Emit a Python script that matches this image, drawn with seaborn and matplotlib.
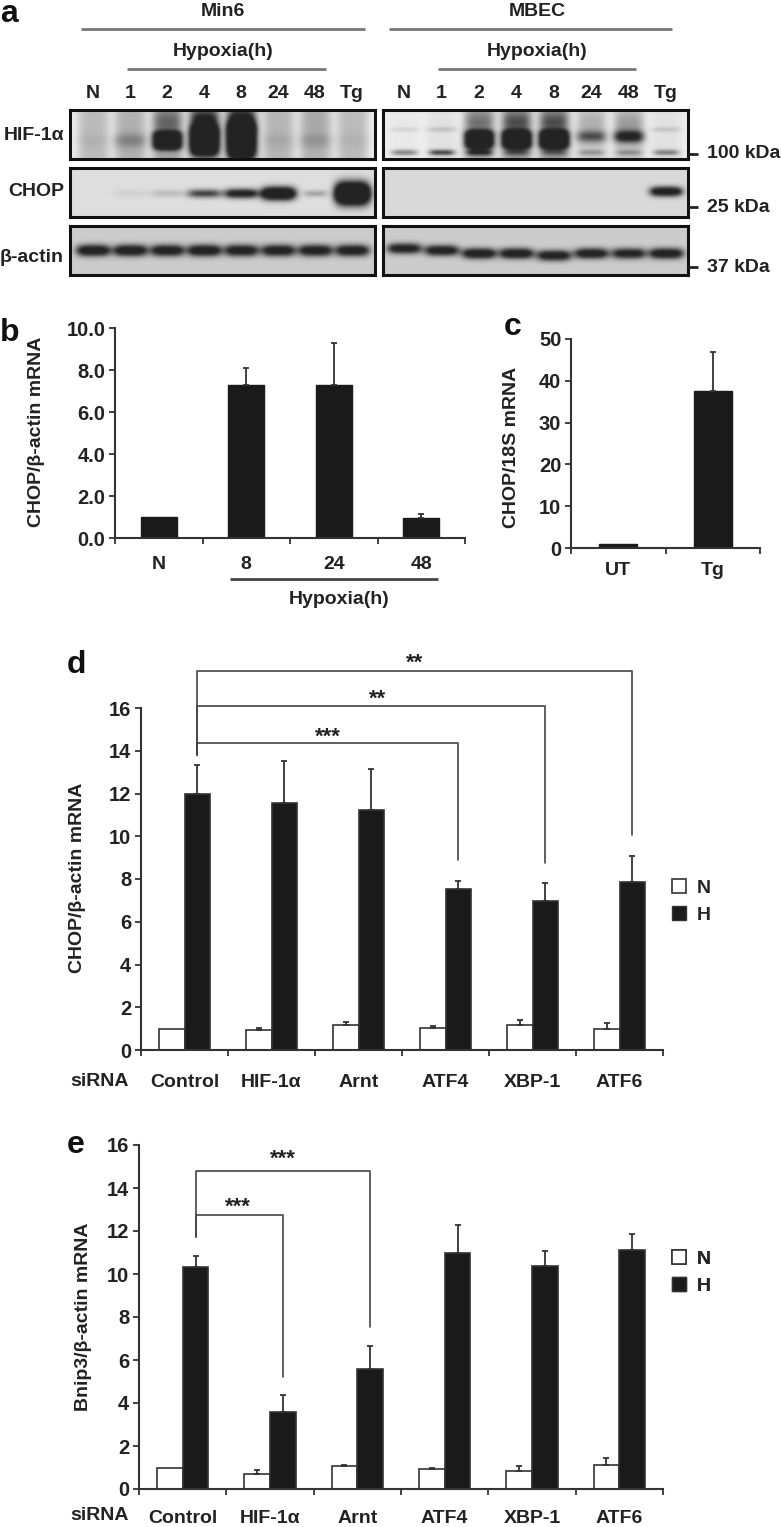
import numpy as np
import pandas as pd
import matplotlib
matplotlib.use("Agg")
import matplotlib.pyplot as plt
from matplotlib.patches import Patch
import seaborn as sns

# ===== DATA =====
b_labels = ["N", "8", "24", "48"]
b_values = [1.0, 7.3, 7.27, 0.93]
b_tops = [1.0, 8.1, 9.3, 1.15]

c_labels = ["UT", "Tg"]
c_values = [1.0, 37.5]
c_tops = [1.0, 47.0]

sirna = ["Control", "HIF-1\u03b1", "Arnt", "ATF4", "XBP-1", "ATF6"]
d_n = [1.0, 0.95, 1.17, 1.02, 1.17, 1.0]
d_n_tops = [1.0, 1.05, 1.3, 1.1, 1.4, 1.25]
d_h = [12.0, 11.55, 11.22, 7.55, 6.95, 7.85]
d_h_tops = [13.35, 13.5, 13.15, 7.9, 7.82, 9.07]

e_n = [1.0, 0.7, 1.05, 0.93, 0.85, 1.1]
e_n_tops = [1.0, 0.87, 1.1, 0.97, 1.05, 1.43]
e_h = [10.33, 3.57, 5.6, 11.0, 10.35, 11.13]
e_h_tops = [10.85, 4.35, 6.67, 12.3, 11.05, 11.87]

lanes = ["N", "1", "2", "4", "8", "24", "48", "Tg"]
# band strength per lane, read by eye from the blots
hif_min6_base = [0.2, 0.24, 0.3, 0.35, 0.35, 0.22, 0.24, 0.2]
hif_min6 = [0.04, 0.2, 1.4, 1.6, 1.6, 0.06, 0.12, 0.04]
hif_min6_smear = [0.0, 0.0, 0.25, 0.6, 0.75, 0.0, 0.03, 0.0]
hif_min6_h = [7, 7, 9, 14, 17, 7, 7, 7]
hif_mbec_base = [0.03, 0.06, 0.3, 0.35, 0.35, 0.15, 0.18, 0.06]
hif_mbec = [0.1, 0.16, 1.4, 1.6, 1.7, 0.5, 0.8, 0.15]
hif_mbec_smear = [0.0, 0.0, 0.2, 0.3, 0.3, 0.1, 0.15, 0.0]
hif_mbec_low = [0.45, 0.7, 0.7, 0.35, 0.3, 0.25, 0.25, 0.45]
chop_min6 = [0.0, 0.06, 0.14, 0.65, 0.95, 1.5, 0.25, 2.2]
chop_min6_h = [4, 4, 3.5, 4, 4.5, 6, 3, 10]
chop_mbec = [0.0, 0.0, 0.0, 0.0, 0.0, 0.0, 0.0, 1.1]
actin_min6 = [0.95, 0.95, 0.9, 0.95, 0.9, 0.9, 0.9, 0.9]
actin_mbec = [0.85, 0.9, 0.95, 0.95, 0.9, 0.9, 0.85, 0.95]
actin_mbec_y = [22, 24, 27, 27, 29, 27, 27, 27]

# ===== STYLE =====
sns.set_theme(style="ticks")
plt.rcParams["font.family"] = ["Liberation Sans", "DejaVu Sans"]
plt.rcParams["font.weight"] = "bold"
plt.rcParams["axes.labelweight"] = "bold"

W, H = 781, 1527
INK = "#222222"
BAR = "#1a1a1a"
FS = 14

fig = plt.figure(figsize=(W / 100, H / 100), dpi=100, facecolor="white")


def px_axes(left, top, right, bottom):
    return fig.add_axes([left / W, 1 - bottom / H, (right - left) / W, (bottom - top) / H])


# overlay in pixel units for the labels and rules around the panels
over = fig.add_axes([0, 0, 1, 1], zorder=10)
over.set_xlim(0, W)
over.set_ylim(H, 0)
over.axis("off")


def label(x, y, s, size=FS, ha="center", **kw):
    over.text(x, y, s, fontsize=size, ha=ha, va="center", color=INK, **kw)


def rule(x0, x1, y, color="#777777", lw=2):
    over.plot([x0, x1], [y, y], color=color, lw=lw, solid_capstyle="butt")


# ===== PANEL A =====
def band(img, cx, cy, width, height, level, power=2):
    yy, xx = np.mgrid[0:img.shape[0], 0:img.shape[1]]
    prof = level * np.exp(-(((xx - cx) / width) ** 4)) * np.exp(-(np.abs((yy - cy) / height) ** power))
    return img + prof


def soften(img):
    # the scan is soft, so run a small kernel over both directions
    kernel = np.array([1, 2, 3, 2, 1]) / 9
    padded = np.pad(np.clip(img, 0, 0.86), 2, mode="edge")
    out = np.apply_along_axis(lambda r: np.convolve(r, kernel, mode="same"), 0, padded)
    out = np.apply_along_axis(lambda r: np.convolve(r, kernel, mode="same"), 1, out)
    return out[2:-2, 2:-2]


def draw_blot(left, top, img):
    ax = px_axes(left, top, left + 305, top + 49)
    sns.heatmap(soften(img), ax=ax, cmap="gray_r", vmin=0, vmax=1, cbar=False,
                xticklabels=False, yticklabels=False)
    for s in ax.spines.values():
        s.set_visible(True)
        s.set_color("#111111")
        s.set_linewidth(2.2)


def lane_x(first, step):
    return [first + step * i for i in range(len(lanes))]


img = np.full((49, 305), 0.07)
for cx, base, v, s, h in zip(lane_x(23, 37), hif_min6_base, hif_min6, hif_min6_smear, hif_min6_h):
    img = band(img, cx, 25, 16, 60, base, power=4)
    img = band(img, cx, 12, 14, 12, s)
    img = band(img, cx, 30, 14 if v > 1 else 17, h, v, power=4 if v > 1 else 2)
draw_blot(70, 110, img)

img = np.full((49, 305), 0.06)
for cx, base, v, s, low in zip(lane_x(21, 37.4), hif_mbec_base, hif_mbec, hif_mbec_smear, hif_mbec_low):
    img = band(img, cx, 25, 16, 60, base, power=4)
    img = band(img, cx, 12, 14, 10, s)
    if v > 1:
        img = band(img, cx, 29, 14, 9, v, power=4)
    elif v > 0.3:
        img = band(img, cx, 26, 15, 6, v)
    else:
        img = band(img, cx, 19, 15, 2, v)
    img = band(img, cx, 42, 13, 2.5, low)
draw_blot(383, 110, img)

img = np.full((49, 305), 0.13)
for cx, v, h in zip(lane_x(23, 37), chop_min6, chop_min6_h):
    img = band(img, cx, 25, 17 if h > 3 else 12, h, v)
draw_blot(70, 168, img)

img = np.full((49, 305), 0.15)
for cx, v in zip(lane_x(21, 37.4), chop_mbec):
    img = band(img, cx, 23, 16, 4.5, v)
draw_blot(383, 168, img)

img = np.full((49, 305), 0.2)
for cx, v in zip(lane_x(23, 37), actin_min6):
    img = band(img, cx, 24, 17, 5.5, v)
draw_blot(70, 226, img)

img = np.full((49, 305), 0.2)
for cx, v, y in zip(lane_x(21, 37.4), actin_mbec, actin_mbec_y):
    img = band(img, cx, y, 17, 5, v)
draw_blot(383, 226, img)

for cx, name in [(223, "Min6"), (537, "MBEC")]:
    label(cx, 12, name)
    label(cx, 51, "Hypoxia(h)")
rule(81, 365, 29)
rule(389, 672, 29)
rule(127, 326, 69)
rule(438, 636, 69)
for x, s in zip(lane_x(93, 37), lanes):
    label(x, 93, s)
for x, s in zip(lane_x(404, 37.4), lanes):
    label(x, 93, s)
label(64, 136, "HIF-1\u03b1", ha="right")
label(64, 192, "CHOP", ha="right")
label(64, 258, "\u03b2-actin", ha="right")
for y, s in [(154, "100 kDa"), (207, "25 kDa"), (267, "37 kDa")]:
    rule(688, 698, y, color=INK)
    label(707, y, s, ha="left")


# ===== BAR PANELS =====
def style_axes(ax, n, ymax, yticks, ylabels, cats, pad=15):
    ax.set_xlim(-0.5, n - 0.5)
    ax.set_ylim(0, ymax)
    ax.set_xlabel("")
    ax.set_ylabel("")
    ax.set_yticks(yticks)
    ax.set_yticklabels(ylabels, fontsize=FS + 0.5, color=INK)
    ax.set_xticks(np.arange(n + 1) - 0.5)
    ax.set_xticklabels([])
    ax.set_xticks(np.arange(n), minor=True)
    ax.set_xticklabels(cats, minor=True, fontsize=FS, color=INK)
    ax.tick_params(axis="x", which="minor", length=0, pad=pad)
    ax.tick_params(axis="x", which="major", length=4, width=1.3, color="#333333")
    ax.tick_params(axis="y", length=4, width=1.3, color="#333333", pad=3)
    sns.despine(ax=ax)
    for side in ("left", "bottom"):
        ax.spines[side].set_color("#333333")
        ax.spines[side].set_linewidth(1.5)
    ax.patch.set_alpha(0)


def add_err(ax, bars, vals, tops):
    xs = [p.get_x() + p.get_width() / 2 for p in bars]
    vals = np.array(vals)
    upper = np.array(tops) - vals
    keep = upper > 0
    ax.errorbar(np.array(xs)[keep], vals[keep], yerr=[np.zeros(keep.sum()), upper[keep]],
                fmt="none", ecolor="#333333", elinewidth=1.3, capsize=2, capthick=1.3, zorder=1)


def single_panel(box, cats, vals, tops, ymax, yticks, ylabels, width, pad):
    ax = px_axes(*box)
    df = pd.DataFrame({"cat": cats, "val": vals})
    sns.barplot(data=df, x="cat", y="val", color=BAR, saturation=1, width=width, errorbar=None,
                edgecolor=BAR, linewidth=1, ax=ax)
    style_axes(ax, len(cats), ymax, yticks, ylabels, cats, pad=pad)
    add_err(ax, ax.containers[0], vals, tops)
    return ax


single_panel((115, 328, 465, 538), b_labels, b_values, b_tops, 10,
             [0, 2, 4, 6, 8, 10], ["0.0", "2.0", "4.0", "6.0", "8.0", "10.0"], 0.41, 13)
single_panel((571, 339, 760, 548), c_labels, c_values, c_tops, 50,
             [0, 10, 20, 30, 40, 50], ["0", "10", "20", "30", "40", "50"], 0.4, 10)
rule(230, 438, 579, color="#444444")
label(339, 600, "Hypoxia(h)")
label(37, 432, "CHOP/\u03b2-actin mRNA", rotation=90)
label(511, 447, "CHOP/18S mRNA", rotation=90)


def group_panel(box, n_vals, n_tops, h_vals, h_tops, legend_xy, pad):
    ax = px_axes(*box)
    df = pd.DataFrame({
        "siRNA": sirna * 2,
        "cond": ["N"] * len(sirna) + ["H"] * len(sirna),
        "val": list(n_vals) + list(h_vals),
    })
    sns.barplot(data=df, x="siRNA", y="val", hue="cond", hue_order=["N", "H"],
                palette={"N": "white", "H": BAR}, saturation=1, width=0.59, gap=0,
                errorbar=None, edgecolor="#333333", linewidth=1.2, ax=ax)
    ax.legend_.remove()
    style_axes(ax, len(sirna), 16, list(range(0, 17, 2)), [str(v) for v in range(0, 17, 2)], sirna, pad=pad)
    add_err(ax, ax.containers[0], n_vals, n_tops)
    add_err(ax, ax.containers[1], h_vals, h_tops)
    handles = [Patch(facecolor="white", edgecolor="#333333", lw=1.2), Patch(facecolor=BAR, edgecolor="#333333")]
    leg = over.legend(handles, ["N", "H"], loc="upper left", bbox_to_anchor=legend_xy,
                      bbox_transform=over.transData, frameon=False, fontsize=FS,
                      handlelength=0.7, handleheight=0.7, handletextpad=0.55,
                      labelspacing=0.5, borderpad=0, borderaxespad=0)
    over.add_artist(leg)
    return ax


def bracket(ax, start, end, y, start_low, end_low, stars, star_x, star_y):
    bars = ax.containers[1]
    x0 = bars[start].get_x() + bars[start].get_width() / 2
    x1 = bars[end].get_x() + bars[end].get_width() / 2
    ax.plot([x0, x0, x1, x1], [start_low, y, y, end_low], color="#444444", lw=1.2, clip_on=False, zorder=5)
    label(star_x, star_y, stars, size=16)


ax_d = group_panel((141, 708, 663, 1050), d_n, d_n_tops, d_h, d_h_tops, (672, 879), 17)
bracket(ax_d, 0, 3, 14.36, 13.8, 8.9, "***", 328, 737)
bracket(ax_d, 0, 4, 16.09, 13.8, 8.75, "**", 378, 699)
bracket(ax_d, 0, 5, 17.73, 13.8, 10.06, "**", 415, 663)
label(70, 1081, "siRNA", ha="left")
label(78, 878, "CHOP/\u03b2-actin mRNA", rotation=90)

ax_e = group_panel((139, 1145, 663, 1489), e_n, e_n_tops, e_h, e_h_tops, (672, 1250), 15)
bracket(ax_e, 0, 1, 12.74, 11.7, 5.2, "***", 238, 1207)
bracket(ax_e, 0, 2, 14.8, 11.7, 7.55, "***", 283, 1159)
label(70, 1516, "siRNA", ha="left")
label(83, 1317, "Bnip3/\u03b2-actin mRNA", rotation=90)

# panel letters
for x, y, s in [(9, 14, "a"), (10, 333, "b"), (513, 327, "c"), (76, 665, "d"), (76, 1145, "e")]:
    over.text(x, y, s, fontsize=23, ha="center", va="center", color="#111111")

fig.savefig("out.png", dpi=100)
